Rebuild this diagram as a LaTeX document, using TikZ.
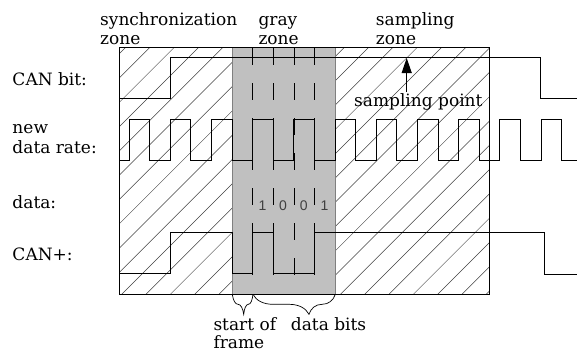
\documentclass[tikz,border=0pt]{standalone}
\usepackage{fontspec}
\setmainfont{DejaVu Serif}
\newfontfamily\digitfont{Liberation Sans}
\usetikzlibrary{arrows.meta,decorations.pathreplacing}
\definecolor{zonegray}{RGB}{192,192,192}
\definecolor{zoneedge}{RGB}{128,128,128}
\begin{document}
\begin{tikzpicture}[x=1pt,y=-1pt,
  lbl/.style={font=\fontsize{17}{20}\selectfont, anchor=base west, inner sep=0pt},
  dig/.style={font=\digitfont\fontsize{14}{16}\selectfont, text=black!75, anchor=base, inner sep=0pt},
  sig/.style={line width=1pt, black},
  hatchline/.style={line width=0.5pt, black!75},
  tickline/.style={line width=1pt, dash pattern=on 17pt off 18pt},
  boxline/.style={line width=1pt},
  bracedeco/.style={decorate, line width=0.7pt, decoration={brace, mirror, amplitude=20pt, aspect=#1}},
  ]
\useasboundingbox (0,0) rectangle (577,351);
% hatching
\begin{scope}
  \clip (119,47.5) rectangle (232.3,294.3) (335.3,47.5) rectangle (489.3,294.3);
  \foreach \k in {-11,...,16}
    \draw[hatchline] ({416+24.3*\k-294.3},294.3) -- ({416+24.3*\k-47.5},47.5);
\end{scope}
% gray zone
\fill[zonegray] (232.3,47.5) rectangle (335.3,294.3);
\draw[zoneedge, line width=1pt] (232.3,47.5) -- (232.3,294.3) (335.3,47.5) -- (335.3,294.3);
% box
\draw[boxline] (119,47.5) rectangle (489.3,294.3);
% dashed bit ticks
\foreach \x in {252.7,273.3,294,314.7}
  \draw[tickline] (\x,48) -- (\x,280);
% CAN bit
\draw[sig] (119,98.7) -- (170.7,98.7) -- (170.7,57.5) -- (540.7,57.5) -- (540.7,98.7) -- (577,98.7);
% new data rate
\draw[sig] (119,160.5) foreach \j in {0,...,10} {
   -- ({129+41.2*\j},160.5) -- ({129+41.2*\j},119.7)
   -- ({149.6+41.2*\j},119.7) -- ({149.6+41.2*\j},160.5) } -- (577,160.5);
% CAN+
\draw[sig] (119,273.5) -- (170.7,273.5) -- (170.7,232.7) -- (232.3,232.7) -- (232.3,273.5)
  -- (252.7,273.5) -- (252.7,232.7) -- (273.3,232.7) -- (273.3,273.5) -- (314.7,273.5)
  -- (314.7,232.7) -- (544.3,232.7) -- (544.3,274.5) -- (577,274.5);
% labels
\node[lbl] (sync) at (100,25) {synchronization};
\node[lbl] (syncz) at (100,44.5) {zone};
\node[lbl] (gray) at (258.3,25) {gray};
\node[lbl] (grayz) at (258.3,44.5) {zone};
\node[lbl] (samp) at (375.7,25) {sampling};
\node[lbl] (sampz) at (375.7,44.5) {zone};
\node[lbl] (canbit) at (12.3,85) {CAN bit:};
\node[lbl] (new) at (12.3,133.3) {new};
\node[lbl] (rate) at (12.3,153.3) {data rate:};
\node[lbl] (data) at (12.3,208.3) {data:};
\node[lbl] (canplus) at (12.3,260) {CAN+:};
\node[lbl] (sp) at (354,106) {sampling point};
\node[lbl] (start) at (213.3,330) {start of};
\node[lbl] (frame) at (213.3,348) {frame};
\node[lbl] (bits) at (290.7,330) {data bits};
% digits
\node[dig] (d1) at (262.5,210) {1};
\node[dig] (d2) at (283.1,210) {0};
\node[dig] (d3) at (303.7,210) {0};
\node[dig] (d4) at (324.5,210) {1};
% sampling point arrow
\coordinate (sptail) at (406.7,92);
\coordinate (sptip) at (406.7,58);
\draw[line width=1pt, -{Triangle[length=15pt,width=10pt]}] (sptail) -- (sptip);
% braces
\coordinate (b0) at (232.3,294.3);
\coordinate (b1) at (253,294.3);
\coordinate (b2) at (335.3,294.3);
\draw[bracedeco=0.55] (b0) -- (b1);
\draw[bracedeco=0.68] (b1) -- (b2);
\end{tikzpicture}
\end{document}
